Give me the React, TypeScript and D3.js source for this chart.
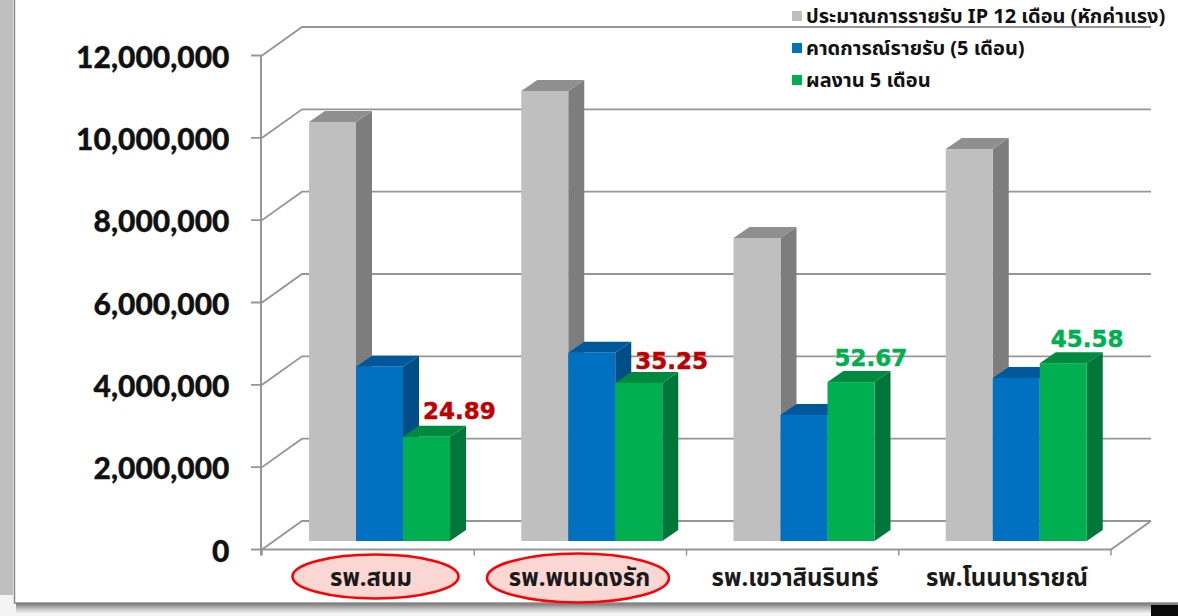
import React from "react";
import * as d3 from "d3";

const categories = ["รพ.สนม", "รพ.พนมดงรัก", "รพ.เขวาสินรินทร์", "รพ.โนนนารายณ์"];
const seriesNames = ["ประมาณการรายรับ IP 12 เดือน (หักค่าแรง)", "คาดการณ์รายรับ (5 เดือน)", "ผลงาน 5 เดือน"];
const estimateIP = [10180000, 10930000, 7360000, 9520000];
const forecast = [4230000, 4570000, 3060000, 3960000];
const actual = [2530000, 3840000, 3860000, 4320000];
const percentLabels = ["24.89", "35.25", "52.67", "45.58"];
const percentColors = ["#C00000", "#C00000", "#00B050", "#00B050"];
const yTicks = [0, 2000000, 4000000, 6000000, 8000000, 10000000, 12000000];
const highlighted = [true, true, false, false];

const W = 1178, H = 616;
const X0 = 262, X1 = 1111, Y0 = 549.5, Y1 = 55.5;
const WALL_DX = 40, WALL_DY = 28.5;
const BAR_DX = 16, BAR_DY = 11, BAR_FLOOR = 8.5;
const GRID = "#969696";
const NUM_FONT = "Lato, 'Open Sans', sans-serif";
const THAI_FONT = "'Noto Sans', 'Noto Sans Thai', Tahoma, sans-serif";
const LABEL_FONT = "'DejaVu Sans', sans-serif";

const palettes = [
  { front: "#BFBFBF", top: "#8F8F8F", side: "#7D7D7D" },
  { front: "#0070C0", top: "#00589A", side: "#004E87" },
  { front: "#00B050", top: "#008A3F", side: "#00763A" },
];
const seriesValues = [estimateIP, forecast, actual];

const y = d3.scaleLinear().domain([0, 12000000]).range([Y0, Y1]);
const band = d3.scaleBand<string>().domain(categories).range([X0, X1]);
const inner = d3.scaleBand<string>().domain(seriesNames).range([47, 188]);
const fmt = d3.format(",");
const labelDx = [25, 25, 12, 16];
const labelDy = [7, 3, 5, 5];
const labelCx = [371, 579.5, 795, 1007];
const ellipseCx = [375.5, 578];
const ellipseRx = [83, 91];

export default function App() {
  React.useEffect(() => {
    document.body.style.margin = "0";
    document.body.style.overflow = "hidden";
  }, []);
  return (
    <svg width={W} height={H} style={{ display: "block", position: "absolute", left: 0, top: 0 }}>
      <defs>
        <linearGradient id="shadowB" x1="0" y1="0" x2="0" y2="1">
          <stop offset="0" stopColor="#707070" />
          <stop offset="0.5" stopColor="#b8b8b8" />
          <stop offset="1" stopColor="#f0f0f0" />
        </linearGradient>
      </defs>
      <rect x={0} y={0} width={W} height={H} fill="#F4F4F4" />
      <rect x={0} y={0} width={13} height={595} fill="#BFBFBF" />
      <rect x={16} y={603} width={W - 16} height={10} fill="url(#shadowB)" />
      <rect x={1151} y={605} width={27} height={11} fill="#0A0A0A" />
      <rect x={14.5} y={-2} width={W} height={605} fill="#FFFFFF" stroke="#8A8A8A" strokeWidth={1.5} />

      {yTicks.map((t) => (
        <g key={t}>
          <path d={`M${X0 - 11},${y(t)}H${X0}L${X0 + WALL_DX},${y(t) - WALL_DY}H${X1 + WALL_DX}`}
            fill="none" stroke={GRID} strokeWidth={1.8} />
          <text x={229.5} y={y(t) + 12} textAnchor="end" fontFamily={NUM_FONT} fontWeight={900} fontSize={30} fill="#111" stroke="#111" strokeWidth={0.3}>
            {fmt(t)}
          </text>
        </g>
      ))}
      <line x1={X0 - 1} x2={X0 - 1} y1={Y1} y2={Y0 + 6} stroke={GRID} strokeWidth={2} />
      <path d={`M${X0},${Y0}H${X1}L${X1 + WALL_DX},${Y0 - WALL_DY}`} fill="none" stroke={GRID} strokeWidth={2} />
      {[...categories.map((c) => band(c)!), X1].map((x, i) => (
        <line key={i} x1={x} x2={x} y1={Y0} y2={Y0 + 6} stroke={GRID} strokeWidth={1.5} />
      ))}

      {categories.map((c, ci) => (
        <g key={c}>
          {seriesNames.map((s, si) => {
            const x0 = band(c)! + inner(s)!;
            const w = inner.bandwidth();
            const top = y(seriesValues[si][ci]) - BAR_FLOOR;
            const bot = Y0 - BAR_FLOOR;
            const p = palettes[si];
            return (
              <g key={s}>
                <path d={`M${x0 + w},${top}l${BAR_DX},${-BAR_DY}V${bot - BAR_DY}l${-BAR_DX},${BAR_DY}Z`} fill={p.side} />
                <path d={`M${x0},${top}l${BAR_DX},${-BAR_DY}h${w}l${-BAR_DX},${BAR_DY}Z`} fill={p.top} />
                <rect x={x0} y={top} width={w} height={bot - top} fill={p.front} />
              </g>
            );
          })}
        </g>
      ))}

      {categories.map((c, ci) => {
        const s = seriesNames[2];
        const cx = band(c)! + inner(s)! + inner.bandwidth() / 2 + BAR_DX / 2 + labelDx[ci];
        const ty = y(actual[ci]) - BAR_FLOOR - BAR_DY - labelDy[ci];
        return (
          <text key={c} x={cx} y={ty} textAnchor="middle" fontFamily={LABEL_FONT} fontWeight={700} fontSize={23} fill={percentColors[ci]} stroke={percentColors[ci]} strokeWidth={0.5}>
            {percentLabels[ci]}
          </text>
        );
      })}

      {categories.map((c, ci) => (
        <g key={c}>
          {highlighted[ci] && (
            <ellipse cx={ellipseCx[ci]} cy={ci === 0 ? 576.5 : 578} rx={ellipseRx[ci]} ry={ci === 0 ? 22 : 24.5}
              fill="#FBD7D3" stroke="#FF0000" strokeWidth={2.6} />
          )}
          <text x={labelCx[ci]} y={586} textAnchor="middle" fontFamily={THAI_FONT} fontWeight={700} fontSize={24} fill="#1a1a1a">
            {c}
          </text>
        </g>
      ))}

      {seriesNames.map((s, si) => {
        const cy = [16, 48, 80][si];
        return (
          <g key={s}>
            <rect x={792} y={cy - 5} width={10} height={10} fill={palettes[si].front} />
            <text x={806} y={cy + 7} fontFamily={THAI_FONT} fontWeight={700} fontSize={20} fill="#111">{s}</text>
          </g>
        );
      })}
    </svg>
  );
}
